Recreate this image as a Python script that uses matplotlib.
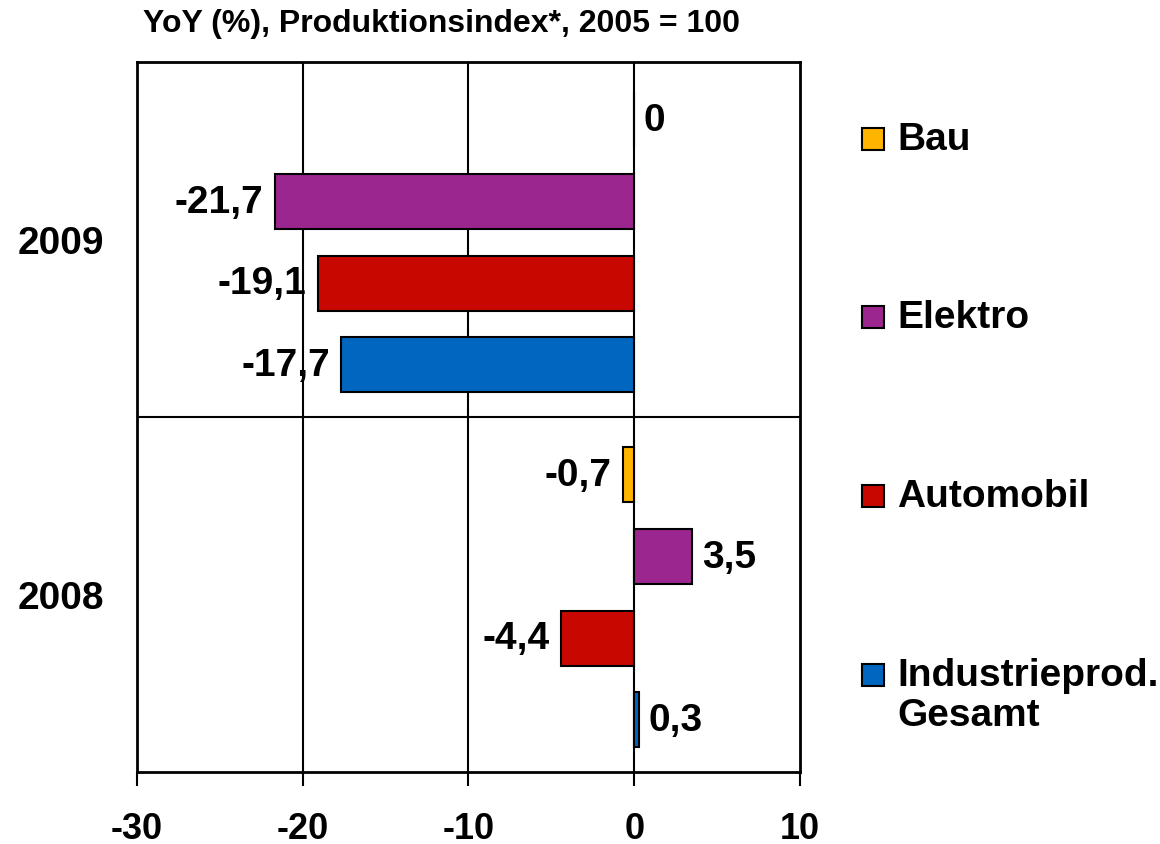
import matplotlib
matplotlib.use("Agg")
import matplotlib.pyplot as plt
from matplotlib.patches import Rectangle
import numpy as np

# ---------- Data ----------
years = ["2008", "2009"]
series = ["Bau", "Elektro", "Automobil", "Industrieprod.\nGesamt"]
bau = [-0.7, 0.0]
elektro = [3.5, -21.7]
automobil = [-4.4, -19.1]
industrie = [0.3, -17.7]
values = [bau, elektro, automobil, industrie]
colors = ["#FFB400", "#9C2690", "#C80800", "#0066C0"]

NARROW = ["Liberation Sans Narrow", "Liberation Sans", "DejaVu Sans"]
WIDE = ["Liberation Sans", "DejaVu Sans"]

fig = plt.figure(figsize=(11.6, 8.45), dpi=100)
ax = fig.add_axes([137 / 1160, 1 - 773 / 845, 663 / 1160, 710 / 845])

# bar offsets within each year slot (top to bottom: Bau ... Industrie)
offsets = [0.337, 0.107, -0.123, -0.353]
bar_h = 0.155
ycenter = np.arange(len(years)) + 0.5

for vals, col, off in zip(values, colors, offsets):
    y = ycenter + off
    ax.barh(y, vals, height=bar_h, color=col, edgecolor="black",
            linewidth=1.5, zorder=3)
    for yy, v in zip(y, vals):
        lbl = f"{v:.1f}".replace(".", ",") if v != 0 else "0"
        if v < 0:
            ax.annotate(lbl, (v, yy), xytext=(-8, 0), textcoords="offset points",
                        ha="right", va="center", fontsize=28,
                        fontweight="bold", family=WIDE)
        else:
            ax.annotate(lbl, (v, yy), xytext=(7, 0), textcoords="offset points",
                        ha="left", va="center", fontsize=28,
                        fontweight="bold", family=WIDE)

ax.set_xlim(-30, 10)
ax.set_ylim(0, 2)
ax.set_xticks([-30, -20, -10, 0, 10])
ax.set_xticklabels(["-30", "-20", "-10", "0", "10"], fontsize=26,
                   fontweight="bold", family=NARROW)
ax.tick_params(axis="x", length=10, width=1.5, pad=18)
ax.set_yticks(ycenter)
ax.set_yticklabels(years, fontsize=28, fontweight="bold", family=WIDE)
ax.tick_params(axis="y", length=0, pad=24)

# grid lines
for gx in [-20, -10, 0]:
    ax.axvline(gx, color="black", linewidth=1.5, zorder=2)
ax.axhline(1, color="black", linewidth=1.5, zorder=2)

for sp in ax.spines.values():
    sp.set_linewidth(2)
    sp.set_color("black")

# title
fig.text(143 / 1160, 1 - 24 / 845, "YoY (%), Produktionsindex*, 2005 = 100",
         ha="left", va="center", fontsize=23, fontweight="bold", family=NARROW)

# legend (manual)
leg_y = [140, 318, 497, 676]
for name, col, ly in zip(series, colors, leg_y):
    fig.patches.append(Rectangle((862 / 1160, 1 - (ly + 11) / 845),
                                 22 / 1160, 22 / 845, transform=fig.transFigure,
                                 facecolor=col, edgecolor="black", linewidth=1.5))
    fig.text(897 / 1160, 1 - (ly - 18) / 845, name, ha="left", va="top",
             fontsize=28, fontweight="bold", family=WIDE, linespacing=1.13)

fig.savefig("out.png", dpi=100)
